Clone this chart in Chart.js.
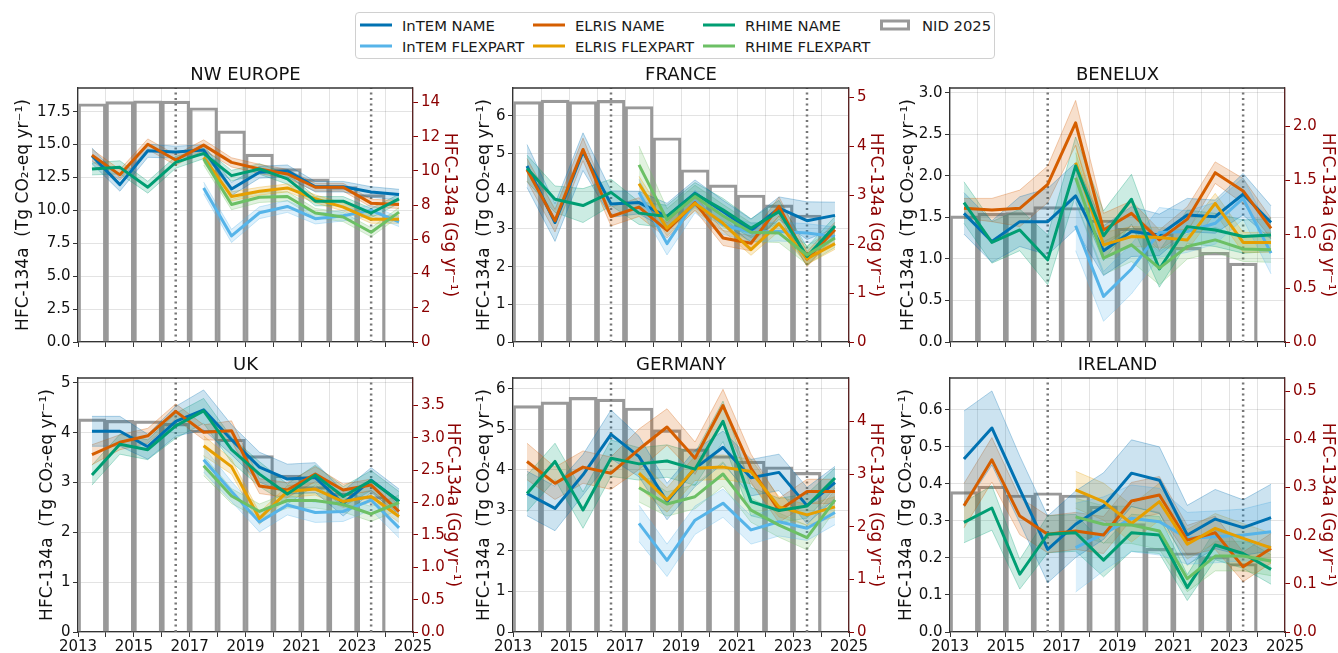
<!DOCTYPE html>
<html>
<head>
<meta charset="utf-8">
<title>HFC-134a emissions</title>
<script src="https://cdn.jsdelivr.net/npm/chart.js@4.4.1/dist/chart.umd.min.js"></script>
<style>
  body { margin: 0; background: #fff; width: 1338px; height: 653px; overflow: hidden; position: relative;
         font-family: 'DejaVu Sans', sans-serif; color: #1a1a1a; }
  canvas.panel { position: absolute; left: 0; top: 0; }
  #legend { position: absolute; left: 355px; top: 12px; width: 640px; height: 47px; box-sizing: border-box;
            border: 1px solid #d0d0d0; border-radius: 4px; background: #fff; z-index: 5; }
  #legend .item { position: absolute; display: flex; align-items: center; transform: translateY(-50%);
                  font-size: 14.8px; white-space: nowrap; }
  #legend .swatch { display: inline-block; width: 32px; height: 3px; margin-right: 10px; }
  #legend .box { display: inline-block; width: 30px; height: 11px; box-sizing: border-box;
                 border: 3px solid #999; margin-right: 12px; }
</style>
</head>
<body>
<div id="legend"></div>

<script>
// x positions (mid-year) and labels
const years = [2013.5, 2014.5, 2015.5, 2016.5, 2017.5, 2018.5, 2019.5, 2020.5, 2021.5, 2022.5, 2023.5, 2024.5];
const flexYears = [2017.5, 2018.5, 2019.5, 2020.5, 2021.5, 2022.5, 2023.5, 2024.5];
const nidYears = [2013.5, 2014.5, 2015.5, 2016.5, 2017.5, 2018.5, 2019.5, 2020.5, 2021.5, 2022.5, 2023.5];
const periodMarks = [2016.5, 2023.5];
const xTickLabels = ['2013', '2015', '2017', '2019', '2021', '2023', '2025'];
const seriesNames = ['InTEM NAME', 'InTEM FLEXPART', 'ELRIS NAME', 'ELRIS FLEXPART', 'RHIME NAME', 'RHIME FLEXPART'];
const seriesColors = ['#0072b2', '#56b4e9', '#d55e00', '#e69f00', '#009e73', '#6cc065'];
const nidLabel = 'NID 2025';
const gwp = 1.3; // Tg CO2-eq per Gg HFC-134a

// NW EUROPE
const nweNid = [18.1, 18.26, 18.33, 18.3, 17.8, 16.04, 14.28, 13.17, 12.4, 11.8, 11.2];
const nweIntemName = [14.15, 11.96, 14.53, 14.43, 14.58, 11.63, 12.9, 13.0, 11.8, 11.8, 11.4, 11.2];
const nweIntemNameUnc = [0.6, 0.5, 0.5, 0.45, 0.4, 0.5, 0.45, 0.45, 0.4, 0.4, 0.4, 0.4];
const nweIntemFlex = [11.71, 8.06, 9.82, 10.3, 9.37, 9.6, 10.0, 9.12];
const nweIntemFlexUnc = [0.45, 0.5, 0.45, 0.45, 0.4, 0.4, 0.4, 0.35];
const nweElrisName = [14.2, 12.7, 15.03, 13.83, 14.96, 13.65, 13.15, 12.77, 11.76, 11.76, 10.55, 10.45];
const nweElrisNameUnc = [0.45, 0.4, 0.4, 0.4, 0.4, 0.35, 0.35, 0.35, 0.3, 0.3, 0.3, 0.3];
const nweElrisFlex = [14.03, 11.06, 11.46, 11.71, 10.88, 10.25, 9.32, 9.32];
const nweElrisFlexUnc = [0.35, 0.35, 0.3, 0.3, 0.3, 0.3, 0.3, 0.3];
const nweRhimeName = [13.15, 13.27, 11.76, 13.65, 14.33, 12.64, 13.15, 12.39, 10.7, 10.7, 9.8, 10.88];
const nweRhimeNameUnc = [0.45, 0.5, 0.45, 0.45, 0.4, 0.4, 0.4, 0.4, 0.35, 0.35, 0.35, 0.35];
const nweRhimeFlex = [13.9, 10.45, 11.0, 11.06, 9.8, 9.5, 8.34, 9.87];
const nweRhimeFlexUnc = [0.45, 0.4, 0.4, 0.35, 0.35, 0.35, 0.35, 0.35];

// FRANCE
const fraNid = [6.38, 6.42, 6.38, 6.41, 6.25, 5.42, 4.57, 4.17, 3.9, 3.64, 3.37];
const fraIntemName = [4.67, 3.17, 5.05, 3.66, 3.7, 3.33, 3.95, 3.46, 2.96, 3.55, 3.22, 3.36];
const fraIntemNameUnc = [0.57, 0.5, 0.5, 0.35, 0.3, 0.35, 0.35, 0.3, 0.3, 0.3, 0.5, 0.35];
const fraIntemFlex = [3.97, 2.61, 3.73, 3.11, 2.91, 2.93, 2.89, 2.8];
const fraIntemFlexUnc = [0.35, 0.3, 0.3, 0.25, 0.25, 0.25, 0.25, 0.25];
const fraElrisName = [4.57, 3.22, 5.11, 3.33, 3.58, 2.96, 3.7, 2.76, 2.62, 3.6, 2.2, 2.98];
const fraElrisNameUnc = [0.3, 0.3, 0.3, 0.25, 0.25, 0.2, 0.2, 0.2, 0.2, 0.25, 0.2, 0.2];
const fraElrisFlex = [4.2, 3.02, 3.68, 3.15, 2.45, 3.14, 2.21, 2.61];
const fraElrisFlexUnc = [0.2, 0.2, 0.2, 0.2, 0.15, 0.2, 0.15, 0.15];
const fraRhimeName = [4.61, 3.79, 3.62, 3.97, 3.42, 3.33, 3.93, 3.51, 3.02, 3.46, 2.27, 3.08];
const fraRhimeNameUnc = [0.35, 0.35, 0.45, 0.35, 0.3, 0.3, 0.3, 0.3, 0.25, 0.3, 0.25, 0.25];
const fraRhimeFlex = [4.7, 3.24, 3.86, 3.35, 2.91, 2.89, 2.31, 2.76];
const fraRhimeFlexUnc = [0.5, 0.3, 0.3, 0.3, 0.25, 0.25, 0.25, 0.25];

// BENELUX
const benNid = [1.52, 1.55, 1.56, 1.63, 1.62, 1.47, 1.37, 1.31, 1.14, 1.08, 0.95];
const benIntemName = [1.55, 1.21, 1.45, 1.45, 1.76, 1.1, 1.33, 1.29, 1.53, 1.51, 1.78, 1.44];
const benIntemNameUnc = [0.25, 0.25, 0.3, 0.4, 0.4, 0.3, 0.3, 0.25, 0.2, 0.2, 0.25, 0.2];
const benIntemFlex = [1.4, 0.55, 0.88, 1.32, 1.33, 1.43, 1.73, 1.07];
const benIntemFlexUnc = [0.3, 0.3, 0.3, 0.3, 0.25, 0.25, 0.25, 0.25];
const benElrisName = [1.61, 1.59, 1.61, 1.9, 2.64, 1.35, 1.55, 1.23, 1.48, 2.04, 1.82, 1.37];
const benElrisNameUnc = [0.12, 0.14, 0.22, 0.22, 0.27, 0.2, 0.15, 0.12, 0.15, 0.13, 0.15, 0.12];
const benElrisFlex = [2.16, 1.17, 1.27, 1.26, 1.23, 1.67, 1.2, 1.2];
const benElrisFlexUnc = [0.2, 0.15, 0.12, 0.12, 0.12, 0.12, 0.12, 0.12];
const benRhimeName = [1.68, 1.2, 1.35, 0.99, 2.12, 1.28, 1.72, 0.88, 1.39, 1.35, 1.27, 1.29];
const benRhimeNameUnc = [0.25, 0.25, 0.25, 0.3, 0.35, 0.3, 0.3, 0.22, 0.2, 0.2, 0.2, 0.2];
const benRhimeFlex = [1.98, 1.01, 1.17, 0.89, 1.15, 1.23, 1.12, 1.11];
const benRhimeFlexUnc = [0.3, 0.2, 0.2, 0.2, 0.15, 0.15, 0.15, 0.15];

// UK
const ukNid = [4.28, 4.25, 4.24, 4.19, 4.05, 3.87, 3.54, 3.15, 2.92, 2.79, 2.72];
const ukIntemName = [4.03, 4.03, 3.72, 4.23, 4.46, 3.86, 3.31, 3.07, 3.1, 2.58, 3.05, 2.62];
const ukIntemNameUnc = [0.3, 0.3, 0.25, 0.3, 0.4, 0.3, 0.3, 0.3, 0.3, 0.25, 0.25, 0.25];
const ukIntemFlex = [3.46, 2.82, 2.21, 2.55, 2.4, 2.42, 2.65, 2.09];
const ukIntemFlexUnc = [0.25, 0.2, 0.2, 0.2, 0.2, 0.2, 0.2, 0.2];
const ukElrisName = [3.56, 3.81, 3.94, 4.43, 4.01, 4.04, 2.93, 2.85, 3.17, 2.85, 2.95, 2.42];
const ukElrisNameUnc = [0.2, 0.15, 0.15, 0.15, 0.15, 0.2, 0.15, 0.15, 0.15, 0.12, 0.12, 0.12];
const ukElrisFlex = [3.74, 3.32, 2.28, 2.82, 2.87, 2.62, 2.72, 2.32];
const ukElrisFlexUnc = [0.2, 0.15, 0.12, 0.12, 0.12, 0.12, 0.12, 0.12];
const ukRhimeName = [3.15, 3.77, 3.66, 4.14, 4.44, 3.66, 3.17, 2.77, 3.15, 2.72, 3.04, 2.62];
const ukRhimeNameUnc = [0.2, 0.2, 0.2, 0.25, 0.25, 0.25, 0.25, 0.2, 0.2, 0.2, 0.2, 0.2];
const ukRhimeFlex = [3.34, 2.73, 2.42, 2.64, 2.64, 2.56, 2.37, 2.6];
const ukRhimeFlexUnc = [0.2, 0.15, 0.15, 0.15, 0.15, 0.15, 0.15, 0.15];

// GERMANY
const gerNid = [5.59, 5.68, 5.79, 5.75, 5.53, 4.99, 4.52, 4.35, 4.22, 4.08, 3.94];
const gerIntemName = [3.42, 3.05, 3.88, 4.88, 4.33, 3.22, 4.04, 4.56, 3.81, 3.94, 3.12, 3.69];
const gerIntemNameUnc = [0.55, 0.55, 0.5, 0.6, 0.5, 0.45, 0.45, 0.4, 0.45, 0.45, 0.45, 0.4];
const gerIntemFlex = [2.68, 1.77, 2.76, 3.18, 2.52, 2.72, 2.56, 2.95];
const gerIntemFlexUnc = [0.45, 0.4, 0.35, 0.35, 0.35, 0.35, 0.3, 0.3];
const gerElrisName = [4.21, 3.67, 4.07, 3.92, 4.51, 5.06, 4.29, 5.59, 4.04, 3.0, 3.47, 3.47];
const gerElrisNameUnc = [0.45, 0.4, 0.4, 0.4, 0.5, 0.45, 0.4, 0.4, 0.35, 0.3, 0.3, 0.3];
const gerElrisFlex = [3.92, 3.26, 4.04, 4.07, 3.96, 3.09, 2.89, 3.09];
const gerElrisFlexUnc = [0.35, 0.3, 0.3, 0.3, 0.3, 0.25, 0.25, 0.25];
const gerRhimeName = [3.42, 4.21, 3.01, 4.29, 4.15, 4.22, 4.02, 5.2, 3.22, 3.0, 3.11, 3.8];
const gerRhimeNameUnc = [0.45, 0.45, 0.45, 0.45, 0.4, 0.4, 0.4, 0.5, 0.35, 0.3, 0.3, 0.25];
const gerRhimeFlex = [3.56, 3.16, 3.34, 3.9, 3.01, 2.64, 2.33, 3.26];
const gerRhimeFlexUnc = [0.35, 0.3, 0.3, 0.3, 0.3, 0.3, 0.3, 0.25];

// IRELAND
const irlNid = [0.379, 0.394, 0.37, 0.376, 0.37, 0.34, 0.293, 0.226, 0.214, 0.204, 0.185];
const irlIntemName = [0.467, 0.551, 0.385, 0.223, 0.291, 0.34, 0.429, 0.41, 0.262, 0.305, 0.282, 0.309];
const irlIntemNameUnc = [0.13, 0.1, 0.09, 0.09, 0.09, 0.09, 0.09, 0.09, 0.08, 0.08, 0.075, 0.09];
const irlIntemFlex = [0.228, 0.265, 0.307, 0.298, 0.253, 0.257, 0.262, 0.271];
const irlIntemFlexUnc = [0.12, 0.1, 0.09, 0.09, 0.07, 0.07, 0.07, 0.08];
const irlElrisName = [0.341, 0.465, 0.313, 0.264, 0.273, 0.262, 0.354, 0.37, 0.248, 0.268, 0.176, 0.226];
const irlElrisNameUnc = [0.06, 0.06, 0.05, 0.05, 0.05, 0.05, 0.05, 0.05, 0.04, 0.045, 0.04, 0.04];
const irlElrisFlex = [0.384, 0.352, 0.293, 0.352, 0.237, 0.28, 0.253, 0.227];
const irlElrisFlexUnc = [0.05, 0.05, 0.05, 0.05, 0.04, 0.04, 0.04, 0.04];
const irlRhimeName = [0.296, 0.335, 0.156, 0.264, 0.268, 0.194, 0.268, 0.262, 0.12, 0.235, 0.212, 0.169];
const irlRhimeNameUnc = [0.055, 0.06, 0.04, 0.05, 0.05, 0.045, 0.05, 0.05, 0.035, 0.04, 0.04, 0.04];
const irlRhimeFlex = [0.311, 0.291, 0.289, 0.273, 0.144, 0.205, 0.205, 0.192];
const irlRhimeFlexUnc = [0.05, 0.05, 0.05, 0.05, 0.035, 0.04, 0.04, 0.04];

// Panel setup (plot-area boxes in page pixels)
const panels = [
    { title: 'NW EUROPE', nid: nweNid,
      series: [nweIntemName, nweIntemFlex, nweElrisName, nweElrisFlex, nweRhimeName, nweRhimeFlex],
      unc: [nweIntemNameUnc, nweIntemFlexUnc, nweElrisNameUnc, nweElrisFlexUnc, nweRhimeNameUnc, nweRhimeFlexUnc],
      yMax: 19.3, yStep: 2.5, yDec: 1, y2Step: 2, y2Dec: 0,
      box: { left: 78, right: 413, top: 88, bottom: 342 }, leftW: 69, rightW: 51, xLabels: false },
    { title: 'FRANCE', nid: fraNid,
      series: [fraIntemName, fraIntemFlex, fraElrisName, fraElrisFlex, fraRhimeName, fraRhimeFlex],
      unc: [fraIntemNameUnc, fraIntemFlexUnc, fraElrisNameUnc, fraElrisFlexUnc, fraRhimeNameUnc, fraRhimeFlexUnc],
      yMax: 6.74, yStep: 1, yDec: 0, y2Step: 1, y2Dec: 0,
      box: { left: 513, right: 849, top: 88, bottom: 342 }, leftW: 43, rightW: 41, xLabels: false },
    { title: 'BENELUX', nid: benNid,
      series: [benIntemName, benIntemFlex, benElrisName, benElrisFlex, benRhimeName, benRhimeFlex],
      unc: [benIntemNameUnc, benIntemFlexUnc, benElrisNameUnc, benElrisFlexUnc, benRhimeNameUnc, benRhimeFlexUnc],
      yMax: 3.06, yStep: 0.5, yDec: 1, y2Step: 0.5, y2Dec: 1,
      box: { left: 950, right: 1285, top: 88, bottom: 342 }, leftW: 56, rightW: 57, xLabels: false },
    { title: 'UK', nid: ukNid,
      series: [ukIntemName, ukIntemFlex, ukElrisName, ukElrisFlex, ukRhimeName, ukRhimeFlex],
      unc: [ukIntemNameUnc, ukIntemFlexUnc, ukElrisNameUnc, ukElrisFlexUnc, ukRhimeNameUnc, ukRhimeFlexUnc],
      yMax: 5.1, yStep: 1, yDec: 0, y2Step: 0.5, y2Dec: 1,
      box: { left: 78, right: 413, top: 378, bottom: 632 }, leftW: 45, rightW: 54, xLabels: true },
    { title: 'GERMANY', nid: gerNid,
      series: [gerIntemName, gerIntemFlex, gerElrisName, gerElrisFlex, gerRhimeName, gerRhimeFlex],
      unc: [gerIntemNameUnc, gerIntemFlexUnc, gerElrisNameUnc, gerElrisFlexUnc, gerRhimeNameUnc, gerRhimeFlexUnc],
      yMax: 6.27, yStep: 1, yDec: 0, y2Step: 1, y2Dec: 0,
      box: { left: 513, right: 849, top: 378, bottom: 632 }, leftW: 43, rightW: 41, xLabels: true },
    { title: 'IRELAND', nid: irlNid,
      series: [irlIntemName, irlIntemFlex, irlElrisName, irlElrisFlex, irlRhimeName, irlRhimeFlex],
      unc: [irlIntemNameUnc, irlIntemFlexUnc, irlElrisNameUnc, irlElrisFlexUnc, irlRhimeNameUnc, irlRhimeFlexUnc],
      yMax: 0.686, yStep: 0.1, yDec: 1, y2Step: 0.1, y2Dec: 1,
      box: { left: 950, right: 1285, top: 378, bottom: 632 }, leftW: 58, rightW: 57, xLabels: true }
];

const FONT = "'DejaVu Sans', sans-serif";
const CANVAS_W = 1360, CANVAS_H = 653;
const TITLE_H = 4 + 18 * 1.2 + 2.2; // padding top + line height + padding bottom
const darkRed = '#8b0000';
const gridColor = 'rgba(0,0,0,0.11)';
const nidColor = '#999999';

function rgba(hex, a) {
    const n = parseInt(hex.slice(1), 16);
    return `rgba(${(n >> 16) & 255}, ${(n >> 8) & 255}, ${n & 255}, ${a})`;
}

// Top spine (matplotlib draws a full frame)
const topFrame = {
    id: 'topFrame',
    afterDraw(chart) {
        const { ctx, chartArea: a } = chart;
        ctx.save();
        ctx.strokeStyle = '#333';
        ctx.lineWidth = 1.3;
        ctx.beginPath();
        ctx.moveTo(a.left, a.top);
        ctx.lineTo(a.right, a.top);
        ctx.stroke();
        ctx.restore();
    }
};

function buildDatasets(p) {
    const ds = [];
    ds.push({
        type: 'bar', label: nidLabel,
        data: nidYears.map((x, k) => ({ x, y: p.nid[k] })),
        backgroundColor: 'rgba(0,0,0,0)', borderColor: nidColor, borderWidth: 2.5,
        barPercentage: 1, categoryPercentage: 1, order: 40
    });
    periodMarks.forEach(x => ds.push({
        type: 'line', data: [{ x, y: 0 }, { x, y: p.yMax }],
        borderColor: '#777', borderWidth: 2.5, borderDash: [2, 3.5], pointRadius: 0, order: 30
    }));
    seriesNames.forEach((name, i) => {
        const xs = i % 2 ? flexYears : years;
        const v = p.series[i], u = p.unc[i], c = seriesColors[i];
        ds.push({
            type: 'line', data: xs.map((x, k) => ({ x, y: v[k] + u[k] })),
            borderColor: rgba(c, 0.3), borderWidth: 1, pointRadius: 0, fill: false, order: 20
        });
        ds.push({
            type: 'line', data: xs.map((x, k) => ({ x, y: v[k] - u[k] })),
            borderColor: rgba(c, 0.3), borderWidth: 1, pointRadius: 0,
            fill: '-1', backgroundColor: rgba(c, 0.2), order: 20
        });
        ds.push({
            type: 'line', label: name, data: xs.map((x, k) => ({ x, y: v[k] })),
            borderColor: c, borderWidth: 3, pointRadius: 0, borderJoinStyle: 'round',
            fill: false, order: 10 - i
        });
    });
    return ds;
}

function makePanel(p) {
    const canvas = document.createElement('canvas');
    canvas.className = 'panel';
    canvas.width = CANVAS_W;
    canvas.height = CANVAS_H;
    document.body.appendChild(canvas);

    const xH = p.xLabels ? CANVAS_H - p.box.bottom : 20;
    const tickFont = { family: FONT, size: 15 };
    const labelFont = { family: FONT, size: 17 };

    new Chart(canvas.getContext('2d'), {
        type: 'line',
        data: { datasets: buildDatasets(p) },
        options: {
            responsive: false,
            animation: false,
            devicePixelRatio: 1,
            events: [],
            layout: {
                padding: {
                    left: p.box.left - p.leftW,
                    right: CANVAS_W - p.box.right - p.rightW,
                    top: p.box.top - TITLE_H,
                    bottom: CANVAS_H - p.box.bottom - xH
                }
            },
            plugins: {
                legend: { display: false },
                tooltip: { enabled: false },
                title: {
                    display: true, text: p.title, fullSize: false, color: '#111',
                    font: { family: FONT, size: 18, weight: 'normal' },
                    padding: { top: 4, bottom: 2.2 }
                }
            },
            scales: {
                x: {
                    type: 'linear', min: 2013, max: 2025, offset: false,
                    afterFit: s => { s.height = xH; },
                    ticks: {
                        stepSize: 1, autoSkip: false, maxRotation: 0, minRotation: 0, padding: 1,
                        font: tickFont, color: '#111',
                        callback: v => (p.xLabels && xTickLabels.includes(String(v))) ? String(v) : ''
                    },
                    grid: { color: gridColor, tickColor: '#333', tickLength: 5, offset: false },
                    border: { color: '#333', width: 1.3 }
                },
                y: {
                    position: 'left', min: 0, max: p.yMax,
                    afterFit: s => { s.width = p.leftW; },
                    ticks: {
                        stepSize: p.yStep, includeBounds: false, padding: 2.5,
                        font: tickFont, color: '#111',
                        callback: v => v.toFixed(p.yDec)
                    },
                    grid: { color: gridColor, tickColor: '#333', tickLength: 5 },
                    border: { color: '#333', width: 1.3 },
                    title: {
                        display: true, text: 'HFC-134a  (Tg CO₂-eq yr⁻¹)', color: '#111',
                        font: labelFont, padding: { top: 4, bottom: 0 }
                    }
                },
                y2: {
                    position: 'right', min: 0, max: p.yMax / gwp,
                    afterFit: s => { s.width = p.rightW; },
                    ticks: {
                        stepSize: p.y2Step, includeBounds: false, padding: 3,
                        font: tickFont, color: darkRed,
                        callback: v => v.toFixed(p.y2Dec)
                    },
                    grid: { drawOnChartArea: false, tickColor: darkRed, tickLength: 5 },
                    border: { color: '#5c2323', width: 1.3 },
                    title: {
                        display: true, text: 'HFC-134a (Gg yr⁻¹)', color: darkRed,
                        font: labelFont, padding: { top: 4, bottom: 0 }
                    }
                }
            }
        },
        plugins: [topFrame]
    });
}

// Shared legend
function buildLegend() {
    const legend = document.getElementById('legend');
    const colX = [4, 177, 347, 524];
    const rowY = [12, 33];
    seriesNames.forEach((name, i) => {
        const item = document.createElement('div');
        item.className = 'item';
        item.style.left = colX[Math.floor(i / 2)] + 'px';
        item.style.top = rowY[i % 2] + 'px';
        item.innerHTML = `<span class="swatch" style="background:${seriesColors[i]}"></span><span>${name}</span>`;
        legend.appendChild(item);
    });
    const nid = document.createElement('div');
    nid.className = 'item';
    nid.style.left = colX[3] + 'px';
    nid.style.top = rowY[0] + 'px';
    nid.innerHTML = `<span class="box"></span><span>${nidLabel}</span>`;
    legend.appendChild(nid);
}

buildLegend();
panels.forEach(makePanel);
</script>
</body>
</html>
